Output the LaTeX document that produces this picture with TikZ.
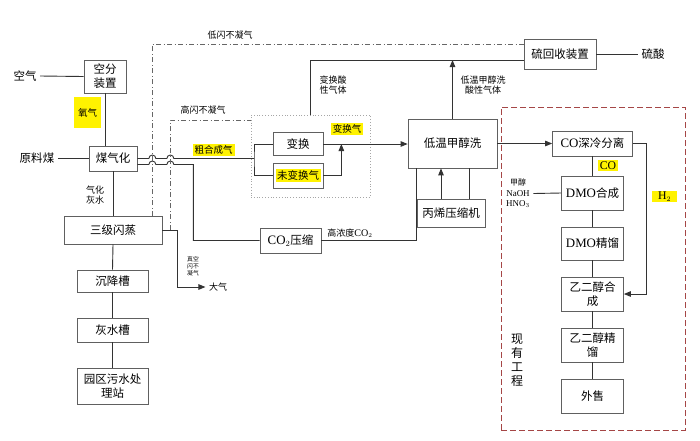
\documentclass[tikz,border=0pt]{standalone}
\usepackage{fontspec}
\setmainfont{Noto Sans CJK SC}
\newfontfamily\lat{Liberation Serif}[Scale=1.12]
\usepackage{xcolor}
\usetikzlibrary{arrows.meta,positioning,calc}
\definecolor{boxred}{RGB}{165,70,70}

\begin{document}
\begin{tikzpicture}[
    x=1pt, y=-1pt,
    every node/.style={font=\fontsize{9}{10.5}\selectfont},
    box/.style={draw=gray!75!black, fill=white, line width=0.7pt, align=center, inner sep=1pt, font=\fontsize{11.5}{14}\selectfont},
    side/.style={font=\fontsize{11.5}{13}\selectfont},
    lab/.style={font=\fontsize{9}{10.5}\selectfont, align=center},
    hl/.style={fill=yellow, inner sep=2pt, font=\fontsize{9.5}{11}\selectfont},
    flow/.style={draw=black!80, line width=0.9pt},
    arr/.style={flow, -{Triangle[length=7pt, width=5.5pt]}},
    dashdot/.style={draw=black!60, line width=0.8pt, dash pattern=on 5pt off 2.5pt on 1pt off 2.5pt},
]
\useasboundingbox (0,0) rectangle (700,440);

% === LEFT: gasification ===
\node[side] (kq) at (25,76) {空气};
\node[box, minimum width=42pt, minimum height=33pt] (kfzz) at (105,76.5) {空分\\装置};
\node[hl, minimum width=27pt, minimum height=31pt] (yq) at (87.5,112.5) {氧气};
\node[side] (ylm) at (37,158.5) {原料煤};
\node[box, minimum width=48pt, minimum height=25pt] (mqh) at (113,158.5) {煤气化};
\node[lab] (hs) at (95,195) {气化\\灰水};

\draw[flow] (kq.east) -- (kfzz.west);
\draw[flow] (kfzz.south) -- (kfzz.south |- mqh.north);
\draw[flow] (ylm.east) -- (mqh.west);

% Flash and water treatment
\node[box, minimum width=98pt, minimum height=28pt] (sjsz) at (113,230) {三级闪蒸};
\node[box, minimum width=71pt, minimum height=22pt] (cjc) at (112.5,281) {沉降槽};
\node[box, minimum width=71pt, minimum height=24pt] (hsc) at (112.5,330) {灰水槽};
\node[box, minimum width=71pt, minimum height=36pt] (wsc) at (112.5,386) {园区污水处\\理站};

\draw[flow] (mqh.south) -- (sjsz.north);
\draw[flow] (sjsz.south) -- (cjc.north);
\draw[flow] (cjc.south) -- (hsc.north);
\draw[flow] (hsc.south) -- (wsc.north);

% Vent to atmosphere
\node[lab] (dq) at (218,287) {大气};
\node[lab, font=\fontsize{5.8}{6.8}\selectfont] (zk) at (193,266) {真空\\闪不\\凝气};
\draw[arr] (sjsz.east) -- ++(15,0) |- (dq.west);

% === MIDDLE: shift and CO2 ===
\node[draw=gray!70, dotted, line width=0.8pt, minimum width=119pt, minimum height=82pt, inner sep=0pt] (bhq) at (310.5,156) {};
\node[box, minimum width=50pt, minimum height=23pt] (bh) at (298,144) {变换};
\node[box, minimum width=50pt, minimum height=25pt] (wbh) at (298,175.5) {\setlength{\fboxsep}{1.5pt}\colorbox{yellow}{\fontsize{10.5}{12}\selectfont 未变换气}};
\node[hl] (bhqlab) at (347,129) {变换气};
\node[hl] (cuhc) at (213.5,150) {粗合成气};
\coordinate (sp) at (254,158.5);

\node[box, minimum width=61pt, minimum height=25pt] (co2) at (290.5,240.5) {{\lat CO$_2$}压缩};
\node[lab] (gnd) at (350,233) {高浓度{\lat CO$_2$}};

% Crude gas, hopping over the flash gas lines
\draw[flow] (mqh.east) -- ++(11.5,0) arc[start angle=180, end angle=0, radius=3.5pt]
    -- ++(11,0) arc[start angle=180, end angle=0, radius=3.5pt] -- (sp);
\draw[flow] (bh.west) -| (sp) |- (wbh.west);
\draw[flow] ([yshift=-6pt]mqh.east) -- ++(11.5,0) arc[start angle=180, end angle=0, radius=3.5pt]
    -- ++(11,0) arc[start angle=180, end angle=0, radius=3.5pt] -- ++(19.5,0) |- (co2.west);

% === Rectisol and sulphur recovery ===
\node[box, minimum width=89pt, minimum height=49pt] (dw) at (452.5,143.5) {低温甲醇洗};
\node[box, minimum width=68pt, minimum height=28pt] (bx) at (451,213) {丙烯压缩机};
\node[box, minimum width=72pt, minimum height=30pt] (lh) at (560,54) {硫回收装置};
\node[side] (ls) at (653,54) {硫酸};
\coordinate (sq) at ([yshift=-6pt]lh.west);

\draw[arr] (bh.east) -- (bh.east -| dw.west);
\draw[arr] (wbh.east) -| ([xshift=18pt]bh.east);
\draw[flow] (bhq.north) |- (sq);
\draw[arr] (dw.north) -- (dw.north |- sq);
\draw[flow] (lh.east) -- (ls.west);
\draw[arr] ([xshift=-10pt]bx.north) -- ([xshift=-11.5pt]dw.south);
\draw[flow] ([xshift=18pt]bx.north) -- ([xshift=16.5pt]dw.south);
\draw[flow] (co2.east) -| ([xshift=-36.5pt]dw.south);

\node[lab, align=left] (bhsx) at (333,85) {变换酸\\性气体};
\node[lab] (dwsx) at (483,85) {低温甲醇洗\\酸性气体};

% Flash gas lines
\coordinate (dd1) at (152,216);
\coordinate (dd2) at (170,230);
\draw[dashdot] (dd1) |- ([yshift=10pt]lh.west);
\draw[dashdot] (dd2) |- ([yshift=36pt]bhq.west);
\node[lab] (ldlab) at (230,35) {低闪不凝气};
\node[lab] (gdlab) at (203,110) {高闪不凝气};

% === RIGHT: existing plant ===
\node[draw=boxred, line width=1pt, dash pattern=on 6pt off 3pt, minimum width=184pt, minimum height=323pt] (xygc) at (593,268.5) {};
\node[box, minimum width=80pt, minimum height=25pt] (coss) at (592.5,143.5) {{\lat CO}深冷分离};
\node[box, minimum width=62pt, minimum height=34pt] (dmo) at (592.5,193) {{\lat DMO}合成};
\node[box, minimum width=62pt, minimum height=33pt] (dmojl) at (592.5,243.5) {{\lat DMO}精馏};
\node[box, minimum width=62pt, minimum height=34pt] (ydhc) at (592.5,294) {乙二醇合\\成};
\node[box, minimum width=62pt, minimum height=34pt] (ydjl) at (592.5,345) {乙二醇精\\馏};
\node[box, minimum width=62pt, minimum height=34pt] (ws) at (592.5,396) {外售};
\node[hl, inner sep=1.5pt, font=\fontsize{10.5}{12}\selectfont] (colab) at (608,165.5) {\lat CO};
\node[hl, inner xsep=6pt, inner ysep=1pt, font=\fontsize{10.5}{12}\selectfont] (h2) at (664.5,196.5) {\lat H$_2$};
\node[lab, font=\fontsize{8}{10.5}\selectfont] (yl) at (518,193.5) {甲醇\\{\lat NaOH}\\{\lat HNO$_3$}};
\node[align=center, font=\fontsize{12}{14}\selectfont] (xy) at (517,360) {现\\有\\工\\程};

\draw[arr] (dw.east) -- (coss.west);
\draw[flow] (coss.south) -- (dmo.north);
\draw[flow] (yl.east) -- (dmo.west);
\draw[flow] (dmo.south) -- (dmojl.north);
\draw[flow] (dmojl.south) -- (ydhc.north);
\draw[flow] (ydhc.south) -- (ydjl.north);
\draw[flow] (ydjl.south) -- (ws.north);
\draw[arr] (coss.east) -- ++(14,0) |- (ydhc.east);

\end{tikzpicture}
\end{document}
